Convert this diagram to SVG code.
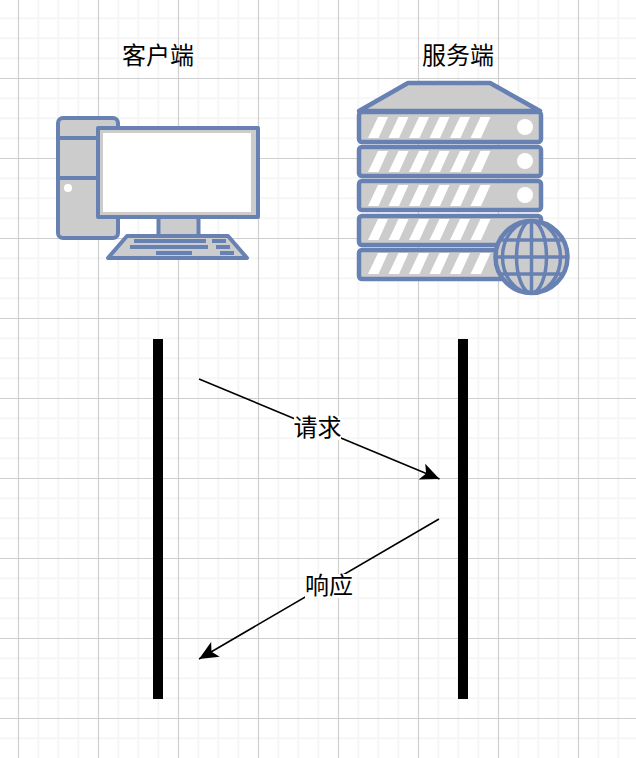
<svg xmlns="http://www.w3.org/2000/svg" width="636" height="758" viewBox="0 0 636 758">
<defs>
<style>
.t{font-family:"Noto Sans CJK SC","Liberation Sans",sans-serif;font-size:24px;fill:#000;text-anchor:middle}
.minor{stroke:#f6f6f6;stroke-width:2;fill:none}
.major{stroke:#cfcfcf;stroke-width:1.2;fill:none}
.s{stroke:#6881b3;stroke-width:4.500;fill:#cccccc;stroke-linejoin:round}
.n{stroke:#6881b3;stroke-width:4;fill:#cccccc;stroke-linejoin:round}
.m{fill:#6881b3}
.w{fill:#fff}
.g{stroke:#6881b3;stroke-width:3.500;fill:none}
.c{stroke:#000;stroke-width:1.600;fill:none}
</style>
<marker id="arrow" markerUnits="userSpaceOnUse" markerWidth="22" markerHeight="22" viewBox="0 0 22 22" refX="20" refY="11" orient="auto">
<path d="M20 11L1 19.500L5.500 11L1 2.500Z" fill="#000"/>
</marker>
<g id="stripes"><path d="M368 138L378 117H388L378.500 138ZM388.500 138L398.500 117H408.500L399 138ZM409 138L419 117H429L419.500 138ZM429.500 138L439.500 117H449.500L440 138ZM450 138L460 117H470L460.500 138ZM470.500 138L480.500 117H490.500L481 138Z" class="w"/></g>
</defs>
<rect width="636" height="758" fill="#fff"/>
<g id="grid">
<path class="minor" d="M38.300 0V758M58.300 0V758M78.300 0V758M118.300 0V758M138.300 0V758M158.300 0V758M198.300 0V758M218.300 0V758M238.300 0V758M278.300 0V758M298.300 0V758M318.300 0V758M358.300 0V758M378.300 0V758M398.300 0V758M438.300 0V758M458.300 0V758M478.300 0V758M518.300 0V758M538.300 0V758M558.300 0V758M598.300 0V758M618.300 0V758M0 18.300H636M0 38.300H636M0 58.300H636M0 98.300H636M0 118.300H636M0 138.300H636M0 178.300H636M0 198.300H636M0 218.300H636M0 258.300H636M0 278.300H636M0 298.300H636M0 338.300H636M0 358.300H636M0 378.300H636M0 418.300H636M0 438.300H636M0 458.300H636M0 498.300H636M0 518.300H636M0 538.300H636M0 578.300H636M0 598.300H636M0 618.300H636M0 658.300H636M0 678.300H636M0 698.300H636M0 738.300H636"/>
<path class="major" d="M18.500 0V758M98.500 0V758M178.500 0V758M258.500 0V758M338.500 0V758M418.500 0V758M498.500 0V758M578.500 0V758M0 78.500H636M0 158.500H636M0 238.500H636M0 318.500H636M0 398.500H636M0 478.500H636M0 558.500H636M0 638.500H636M0 718.500H636"/>
</g>
<g id="client-title"><text class="t" x="158" y="64">客户端</text></g>
<g id="server-title"><text class="t" x="458" y="64">服务端</text></g>
<g id="client">
<rect class="n" x="58" y="118" width="60" height="120" rx="5"/>
<path class="n" d="M58 138H118M58 178H118" fill="none"/>
<circle class="w" cx="68" cy="188" r="4"/>
<rect class="n" x="158.500" y="217" width="40" height="20"/>
<rect class="n" x="98" y="128" width="160" height="89"/>
<rect class="w" x="103" y="133" width="148" height="79"/>
<path class="n" d="M127 236H228L247 258H108Z"/>
<path class="m" d="M134 239H206V243H134ZM212 239H226V243H212ZM130 245H208V249H130ZM216 245H230V249H216ZM156 251H192V255H156ZM220 251H234V255H220Z"/>
</g>
<g id="server">
<path class="s" d="M408 83H490L540 111H359Z"/>
<rect class="s" x="359" y="112" width="182" height="30" rx="3"/>
<use href="#stripes"/>
<circle class="w" cx="525" cy="127" r="8"/>
<rect class="s" x="359" y="147" width="182" height="29" rx="3"/>
<use href="#stripes" y="34"/>
<circle class="w" cx="525" cy="161" r="8"/>
<rect class="s" x="359" y="181" width="182" height="29" rx="3"/>
<use href="#stripes" y="68"/>
<circle class="w" cx="525" cy="195" r="8"/>
<rect class="s" x="359" y="216" width="182" height="29" rx="3"/>
<use href="#stripes" y="102"/>
<rect class="s" x="359" y="250" width="182" height="29" rx="3"/>
<use href="#stripes" y="136"/>
<circle class="s" cx="531.500" cy="257" r="36"/>
<path class="g" d="M531.500 221V293M499 240H564M495.500 257H567.500M499 274H564"/>
<ellipse class="g" cx="531.500" cy="257" rx="15" ry="36"/>
<ellipse class="g" cx="531.500" cy="257" rx="29" ry="36"/>
</g>
<g id="client-lifeline"><rect x="153" y="339" width="10" height="360" fill="#000"/></g>
<g id="server-lifeline"><rect x="458" y="339" width="10" height="360" fill="#000"/></g>
<g id="connectors">
<path class="c" d="M199 379L439.500 479" marker-end="url(#arrow)"/>
<rect class="w" x="294" y="416" width="47" height="24"/>
<text class="t" x="317.500" y="436">请求</text>
<path class="c" d="M439 519L199 659" marker-end="url(#arrow)"/>
<rect class="w" x="305" y="574" width="48" height="24"/>
<text class="t" x="329" y="594">响应</text>
</g>
</svg>
